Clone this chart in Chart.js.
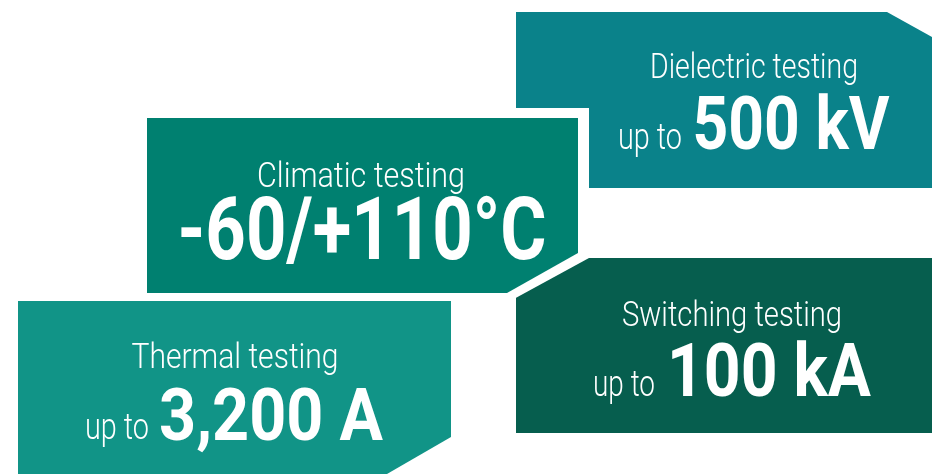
<!DOCTYPE html>
<html>
<head>
<meta charset="utf-8">
<title>Testing capabilities</title>
<script src="https://cdn.jsdelivr.net/npm/chart.js@4.4.1/dist/chart.umd.min.js"></script>
<style>
  html, body { margin: 0; padding: 0; background: #fff; }
  #wrap { width: 932px; height: 474px; }
</style>
</head>
<body>
<div id="wrap"><canvas id="panels" width="932" height="474"></canvas></div>
<script>
// Panel captions
const titles = ['Dielectric testing', 'Climatic testing', 'Switching testing', 'Thermal testing'];
const prefixes = ['up to', '', 'up to', 'up to'];
const values = ['500 kV', '-60/+110°C', '100 kA', '3,200 A'];

// Panel outlines, each as an upper and a lower edge (x, y)
const dielectricTop = [[516, 12], [887, 12], [932, 37]];
const dielectricBottom = [[516, 188], [932, 188]];
const climaticTop = [[147, 118], [578, 118]];
const climaticBottom = [[147, 293], [507, 293], [578, 253]];
const gapTop = [[136, 108], [589, 108]];
const gapBottom = [[136, 300], [512, 300], [589, 258]];
const switchingTop = [[516, 258], [932, 258]];
const switchingBottom = [[516, 433], [932, 433]];
const thermalTop = [[18, 301], [451, 301]];
const thermalBottom = [[18, 474], [387, 474], [451, 437]];

const colors = {
    dielectric: '#0a828a',
    climatic: '#008070',
    switching: '#065e4e',
    thermal: '#119487',
    gap: '#ffffff'
};

// where the text goes: [centre x, baseline y, max width, size]
const textLayout = [
    { title: [754, 78, 208, 35], prefix: [650, 149, 64, 36], value: [791, 149, 197, 74] },
    { title: [361, 187, 208, 35], prefix: null, value: [362, 259, 369, 88] },
    { title: [732, 326, 220, 35], prefix: [624, 396, 62, 36], value: [769, 396, 204, 74] },
    { title: [235, 368, 207, 35], prefix: [117, 439, 64, 36], value: [271, 440, 224, 72] }
];

const toPoints = arr => arr.map(p => ({ x: p[0], y: p[1] }));

const edge = (name, pts, color, order, fill) => ({
    label: name,
    data: toPoints(pts),
    showLine: true,
    borderWidth: 0,
    borderColor: 'rgba(0,0,0,0)',
    pointRadius: 0,
    pointHoverRadius: 0,
    backgroundColor: color,
    fill: fill ? '+1' : false,
    order: order
});

const datasets = [
    edge('dielectric', dielectricTop, colors.dielectric, 5, true),
    edge('dielectric-b', dielectricBottom, colors.dielectric, 5, false),
    edge('switching', switchingTop, colors.switching, 4, true),
    edge('switching-b', switchingBottom, colors.switching, 4, false),
    edge('thermal', thermalTop, colors.thermal, 3, true),
    edge('thermal-b', thermalBottom, colors.thermal, 3, false),
    edge('gap', gapTop, colors.gap, 2, true),
    edge('gap-b', gapBottom, colors.gap, 2, false),
    edge('climatic', climaticTop, colors.climatic, 1, true),
    edge('climatic-b', climaticBottom, colors.climatic, 1, false)
];

const face = 'Roboto, "DejaVu Sans Condensed", sans-serif';

const captionPlugin = {
    id: 'captions',
    afterDatasetsDraw(chart) {
        const ctx = chart.ctx;
        const xs = chart.scales.x;
        const ys = chart.scales.y;
        const put = (text, spec, weight) => {
            if (!spec || !text) return;
            ctx.font = weight + ' ' + spec[3] + 'px ' + face;
            ctx.fillText(text, xs.getPixelForValue(spec[0]), ys.getPixelForValue(spec[1]), spec[2]);
        };
        ctx.save();
        ctx.fillStyle = '#ffffff';
        ctx.textAlign = 'center';
        ctx.textBaseline = 'alphabetic';
        textLayout.forEach((lay, i) => {
            put(titles[i], lay.title, '300');
            put(prefixes[i], lay.prefix, '300');
            put(values[i], lay.value, 'bold');
        });
        ctx.restore();
    }
};

new Chart(document.getElementById('panels'), {
    type: 'scatter',
    data: { datasets: datasets },
    options: {
        responsive: false,
        animation: false,
        devicePixelRatio: 1,
        layout: { padding: 0 },
        scales: {
            x: { type: 'linear', min: 0, max: 932, display: false },
            y: { type: 'linear', min: 0, max: 474, reverse: true, display: false }
        },
        plugins: {
            legend: { display: false },
            tooltip: { enabled: false },
            filler: { propagate: false }
        },
        events: []
    },
    plugins: [captionPlugin]
});
</script>
</body>
</html>
